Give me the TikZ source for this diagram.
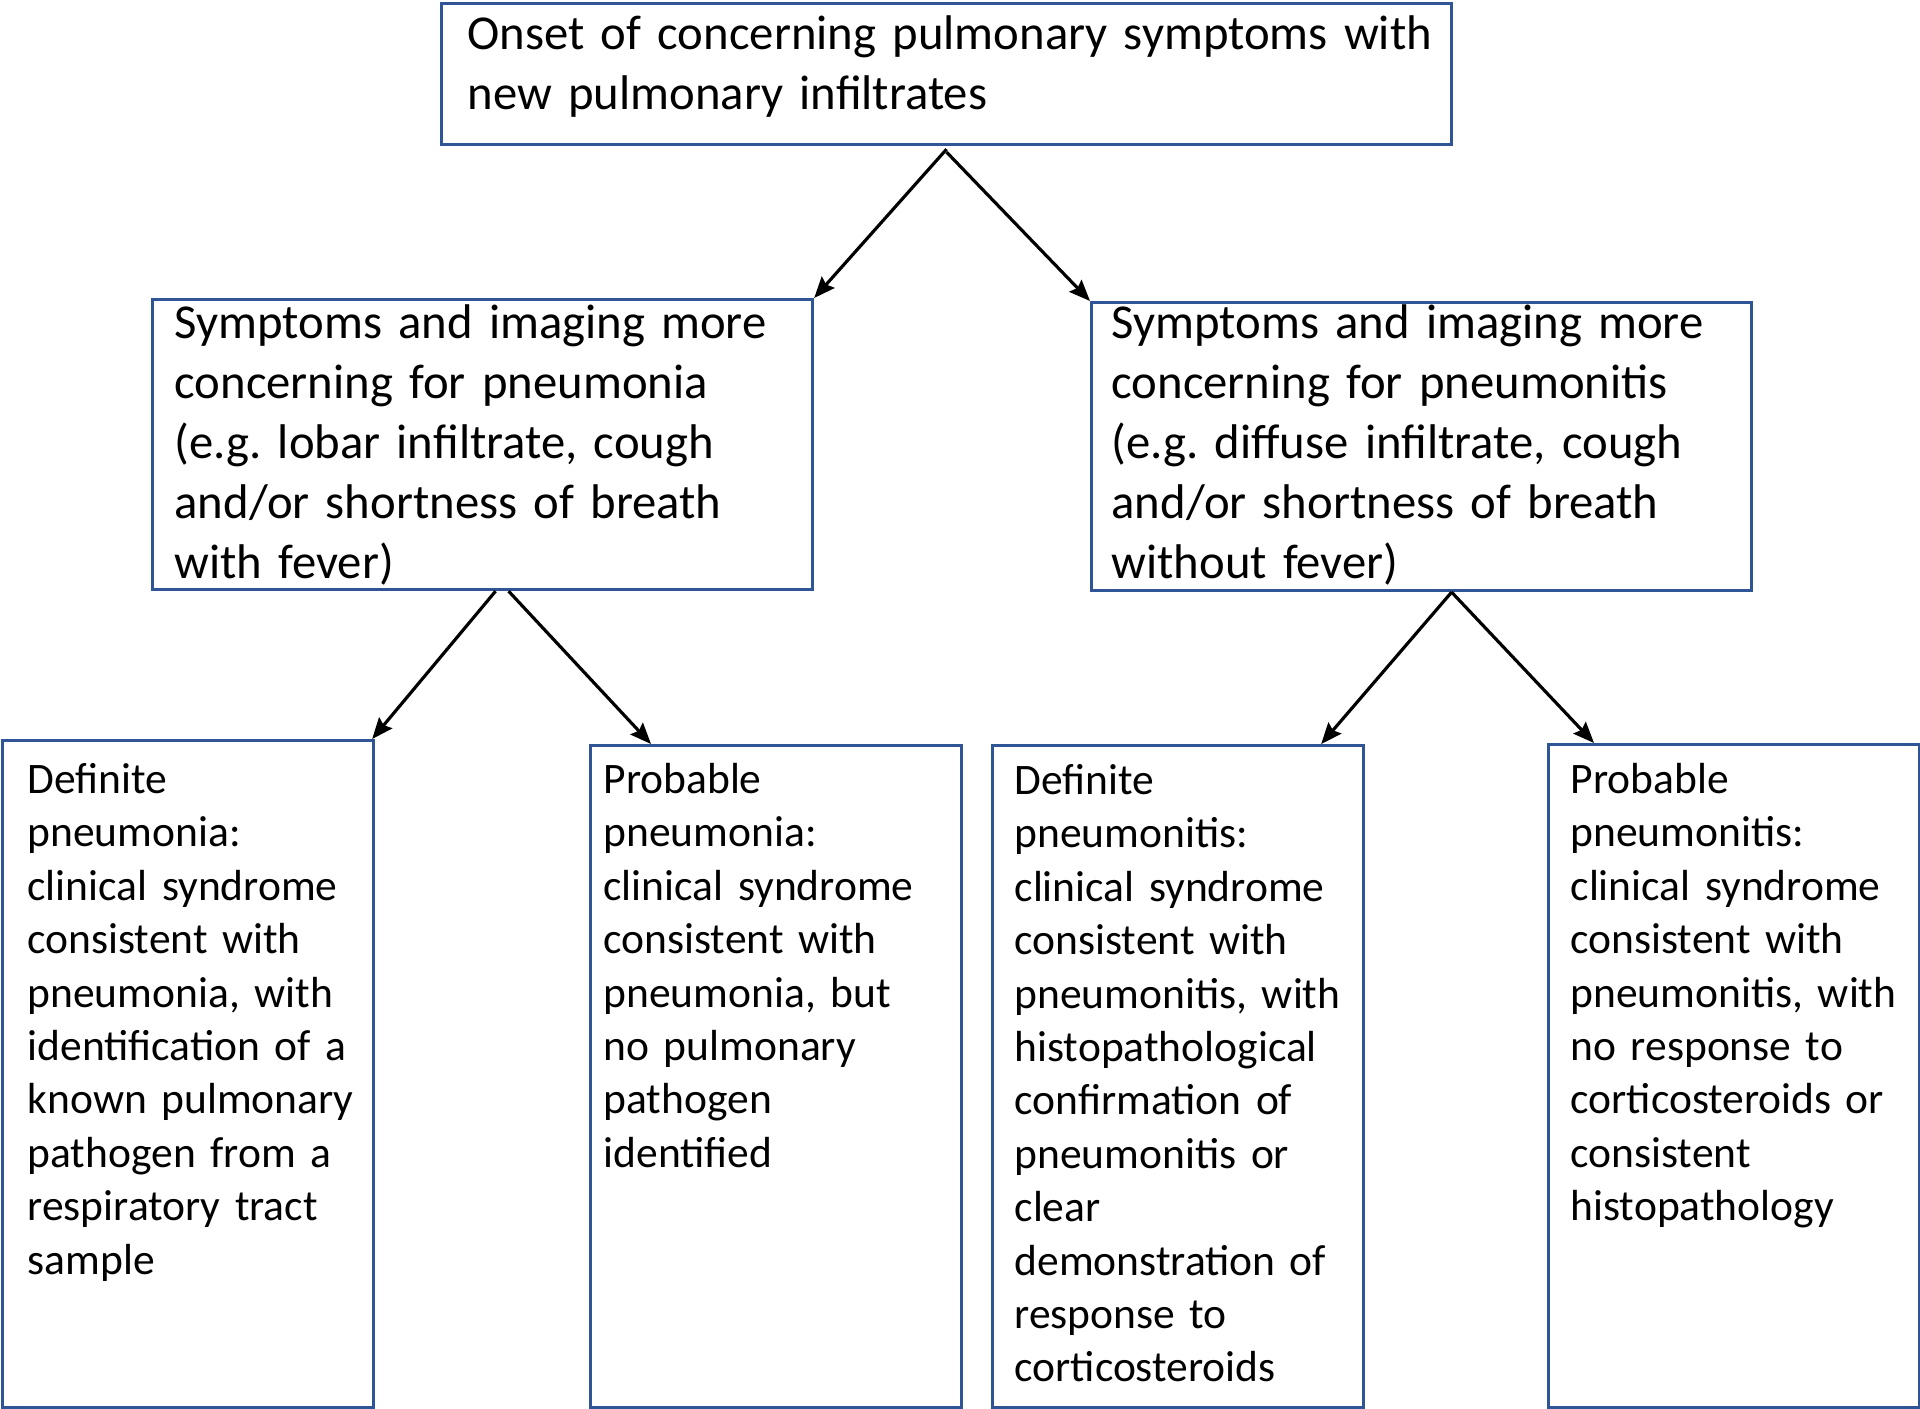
\documentclass[tikz,border=0pt]{standalone}
\usepackage{fontspec}
\setmainfont{Carlito}
\usepackage{tikz}
\usetikzlibrary{arrows.meta}

\definecolor{boxblue}{RGB}{47,85,151}
\newcommand{\headfont}{\fontsize{13.86pt}{17.07pt}\selectfont\frenchspacing}
\newcommand{\leaffont}{\fontsize{12.38pt}{15.19pt}\selectfont\frenchspacing}

\begin{document}
\begin{tikzpicture}[
    box/.style={draw=boxblue, line width=0.9pt, anchor=north west, align=left,
        inner xsep=0.22cm, inner ysep=0pt, font=\headfont,
        execute at begin node={\rightskip=-0.8cm plus 1fil\relax}},
    leaf/.style={box, font=\leaffont},
    arr/.style={line width=0.9pt, -{Stealth[length=0.21cm,width=0.17cm,inset=0.03cm]}}
    ]
        \pgfmathsetmacro\leafw{3.71}
        \pgfmathsetmacro\midw{6.60}
        \useasboundingbox (0,0) rectangle (19.2,-14.09);
        % top
        \node[box, inner xsep=0.26cm, text width=10.10cm-0.52cm, text height=0.46cm, text depth=0.95cm]
            (onset) at (4.40,-0.02)
            {Onset of concerning pulmonary symptoms with\\new pulmonary infiltrates};
        % second row
        \node[box, text width=\midw cm-0.44cm, text height=0.39cm, text depth=2.51cm]
            (pna) at (1.51,-2.98)
            {Symptoms and imaging more\\concerning for pneumonia\\(e.g. lobar infiltrate, cough\\and/or shortness of breath\\with fever)};
        \node[box, inner xsep=0.20cm, text width=\midw cm-0.40cm, text height=0.36cm, text depth=2.52cm]
            (pnt) at (10.90,-3.01)
            {Symptoms and imaging more\\concerning for pneumonitis\\(e.g. diffuse infiltrate, cough\\and/or shortness of breath\\without fever)};
        % leaves
        \node[leaf, inner xsep=0.25cm, text width=\leafw cm-0.50cm, text height=0.53cm, text depth=6.14cm]
            (defpna) at (0.01,-7.39)
            {Definite\\pneumonia:\\clinical syndrome\\consistent with\\pneumonia, with\\identification of a\\known pulmonary\\pathogen from a\\respiratory tract\\sample};
        \node[leaf, inner xsep=0.13cm, text width=\leafw cm-0.26cm, text height=0.48cm, text depth=6.14cm]
            (probpna) at (5.89,-7.44)
            {Probable\\pneumonia:\\clinical syndrome\\consistent with\\pneumonia, but\\no pulmonary\\pathogen\\identified};
        \node[leaf, text width=\leafw cm-0.44cm, text height=0.49cm, text depth=6.13cm]
            (defpnt) at (9.91,-7.44)
            {Definite\\pneumonitis:\\clinical syndrome\\consistent with\\pneumonitis, with\\histopathological\\confirmation of\\pneumonitis or\\clear\\demonstration of\\response to\\corticosteroids};
        \node[leaf, text width=\leafw cm-0.44cm, text height=0.49cm, text depth=6.14cm]
            (probpnt) at (15.47,-7.43)
            {Probable\\pneumonitis:\\clinical syndrome\\consistent with\\pneumonitis, with\\no response to\\corticosteroids or\\consistent\\histopathology};
        % arrows
        \draw[arr] ([yshift=-0.03cm]onset.south) -- (pna.north east);
        \draw[arr] ([yshift=-0.06cm]onset.south) -- (pnt.north west);
        \draw[arr] ([xshift=0.13cm]pna.south) -- ([xshift=-0.03cm]defpna.north east);
        \draw[arr] ([xshift=0.26cm]pna.south) -- ([xshift=0.62cm]probpna.north west);
        \draw[arr] ([xshift=0.30cm]pnt.south) -- ([xshift=-0.44cm]defpnt.north east);
        \draw[arr] ([xshift=0.30cm]pnt.south) -- ([xshift=0.47cm]probpnt.north west);
\end{tikzpicture}
\end{document}
